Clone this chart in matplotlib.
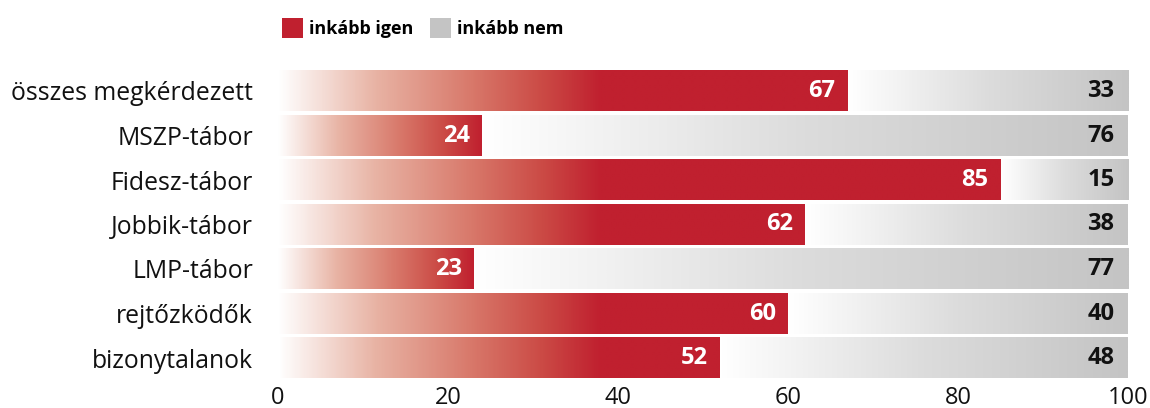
import numpy as np
import matplotlib.pyplot as plt
from matplotlib.colors import LinearSegmentedColormap
from matplotlib.patches import Patch

plt.rcParams['font.family'] = ['Open Sans', 'DejaVu Sans']

categories = ['összes megkérdezett', 'MSZP-tábor', 'Fidesz-tábor', 'Jobbik-tábor',
              'LMP-tábor', 'rejtőzködők', 'bizonytalanok']
yes_values = [67, 24, 85, 62, 23, 60, 52]
no_values = [33, 76, 15, 38, 77, 40, 48]
legend_labels = ['inkább igen', 'inkább nem']

RED = '#c0202f'
GRAY = '#c4c4c4'
red_cmap = LinearSegmentedColormap.from_list(
    'redfade', [(0, '#ffffff'), (0.3, '#e8b3a4'), (0.6, '#d8786a'), (0.82, '#cb4a45'), (1, RED)])
gray_cmap = LinearSegmentedColormap.from_list('grayfade', ['#ffffff', '#dcdcdc', GRAY])

fig = plt.figure(figsize=(11.5, 4.08), dpi=100)
ax = fig.add_axes([278 / 1150, 1 - 380.25 / 408, 850 / 1150, (380.25 - 68.75) / 408])

h = 0.9
for i, (yes, no) in enumerate(zip(yes_values, no_values)):
    y = i
    # red part: fades from white to full red
    full = min(yes, 38)
    xs = np.linspace(0, yes, 400)
    t = np.clip(xs / full, 0, 1)
    ax.imshow(red_cmap(t)[None, :, :3], extent=[0, yes, y + h / 2, y - h / 2],
              aspect='auto', interpolation='bilinear', zorder=2)
    # gray part: fades from white to gray across the bar
    xs2 = np.linspace(0, 1, 400)
    ax.imshow(gray_cmap(xs2)[None, :, :3], extent=[yes, yes + no, y + h / 2, y - h / 2],
              aspect='auto', interpolation='bilinear', zorder=2)
    ax.text(yes - 1.4, y, str(yes), ha='right', va='center', color='white',
            fontsize=17, fontweight='bold', zorder=3)
    ax.text(100 - 1.6, y, str(no), ha='right', va='center', color='#111111',
            fontsize=17, fontweight='bold', zorder=3)

ax.set_xlim(0, 100)
ax.set_ylim(len(categories) - 0.5, -0.5)
ax.set_yticks(range(len(categories)))
ax.set_yticklabels(categories, fontsize=17.8, color='#111111')
ax.set_xticks([0, 20, 40, 60, 80, 100])
ax.tick_params(axis='x', labelsize=17, length=0, pad=4, labelcolor='#111111')
ax.tick_params(axis='y', length=0, pad=18)
for s in ax.spines.values():
    s.set_visible(False)

handles = [Patch(facecolor=RED, edgecolor='none'), Patch(facecolor=GRAY, edgecolor='none')]
fig.legend(handles, legend_labels, loc='upper left', bbox_to_anchor=(266 / 1150, 0.995),
           ncol=2, frameon=False, prop={'size': 13, 'weight': 'bold'},
           handlelength=1.15, handleheight=1.3, handletextpad=0.35, columnspacing=0.9)

fig.savefig('out.png', dpi=100)
